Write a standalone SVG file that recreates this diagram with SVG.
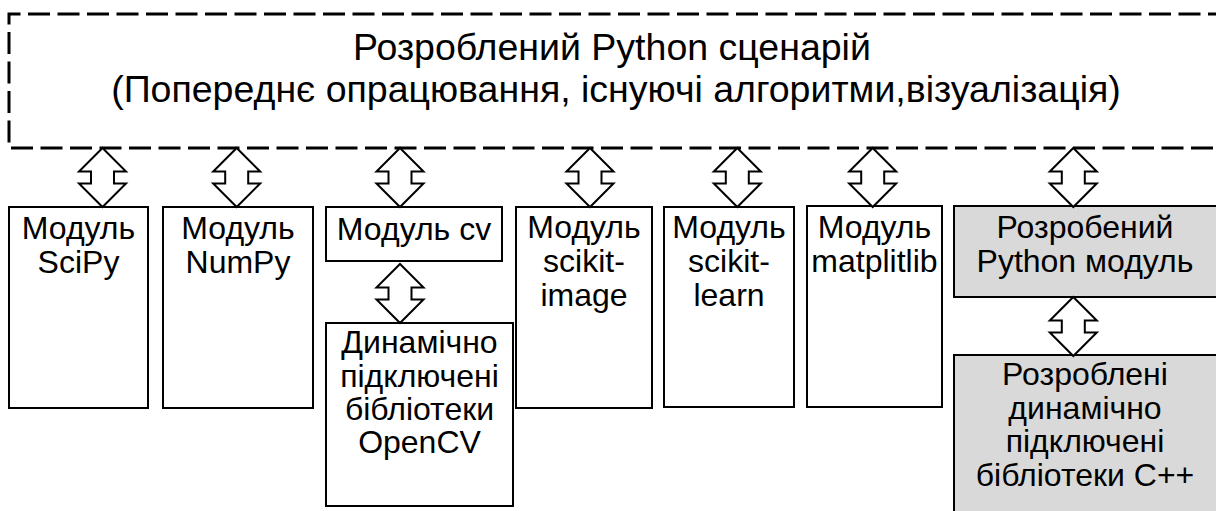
<svg xmlns="http://www.w3.org/2000/svg" xmlns:xlink="http://www.w3.org/1999/xlink" width="1216" height="511" viewBox="0 0 1216 511">
<style>
.box{fill:#fff;stroke:#000;stroke-width:2}
.gbox{fill:#d9d9d9;stroke:#000;stroke-width:2}
.t{font-family:"Liberation Sans",Arial,sans-serif;font-size:32px;fill:#000;text-anchor:middle}
.title{font-family:"Liberation Sans",Arial,sans-serif;font-size:37.5px;fill:#000;text-anchor:middle}
</style>
<defs>
<path id="dblarrow" d="M0,0 L23.5,23.5 H11.5 V35.5 H23.5 L0,59 L-23.5,35.5 H-11.5 V23.5 H-23.5 Z" fill="#fff" stroke="#000" stroke-width="2" stroke-linejoin="miter"/>
</defs>
<g id="script">
<path d="M1230,14 H9 V148 H1230" fill="none" stroke="#000" stroke-width="3" stroke-dasharray="22 7.5"/>
<text class="title" x="612" y="60">Розроблений Python сценарій</text>
<text class="title" x="616" y="102">(Попереднє опрацювання, існуючі алгоритми,візуалізація)</text>
</g>
<g id="scipy">
<rect class="box" x="9" y="207" width="139" height="201"/>
<text class="t" x="78.5" y="239">Модуль</text>
<text class="t" x="78.5" y="273">SciPy</text>
</g>
<g id="numpy">
<rect class="box" x="163" y="207" width="150" height="201"/>
<text class="t" x="238" y="239">Модуль</text>
<text class="t" x="238" y="273">NumPy</text>
</g>
<g id="cv">
<rect class="box" x="326" y="207" width="176" height="54"/>
<text class="t" x="414" y="240">Модуль cv</text>
</g>
<g id="opencv">
<rect class="box" x="326" y="323" width="187" height="183"/>
<text class="t" x="419.5" y="353">Динамічно</text>
<text class="t" x="419.5" y="386.5">підключені</text>
<text class="t" x="419.5" y="419.5">бібліотеки</text>
<text class="t" x="419.5" y="452.5">OpenCV</text>
</g>
<g id="skimage">
<rect class="box" x="516" y="207" width="136" height="201"/>
<text class="t" x="584" y="238">Модуль</text>
<text class="t" x="584" y="272">scikit-</text>
<text class="t" x="584" y="306">image</text>
</g>
<g id="sklearn">
<rect class="box" x="664" y="207" width="130" height="200"/>
<text class="t" x="729" y="238">Модуль</text>
<text class="t" x="729" y="272">scikit-</text>
<text class="t" x="729" y="306">learn</text>
</g>
<g id="matplotlib">
<rect class="box" x="807" y="206" width="135" height="201"/>
<text class="t" x="874.5" y="238">Модуль</text>
<text class="t" x="874.5" y="272">matplitlib</text>
</g>
<g id="pymodule">
<rect class="gbox" x="954" y="206" width="270" height="91"/>
<text class="t" x="1085" y="238">Розробений</text>
<text class="t" x="1085" y="272">Python модуль</text>
</g>
<g id="cpplibs">
<rect class="gbox" x="954" y="355" width="270" height="170"/>
<text class="t" x="1085" y="385">Розроблені</text>
<text class="t" x="1085" y="418.5">динамічно</text>
<text class="t" x="1085" y="452">підключені</text>
<text class="t" x="1085" y="485.5">бібліотеки С++</text>
</g>
<g id="connectors">
<use xlink:href="#dblarrow" transform="translate(102.5,148)"/>
<use xlink:href="#dblarrow" transform="translate(236.7,148)"/>
<use xlink:href="#dblarrow" transform="translate(400,148)"/>
<use xlink:href="#dblarrow" transform="translate(590,148)"/>
<use xlink:href="#dblarrow" transform="translate(737.3,148)"/>
<use xlink:href="#dblarrow" transform="translate(872.7,148)"/>
<use xlink:href="#dblarrow" transform="translate(1073.3,148)"/>
<use xlink:href="#dblarrow" transform="translate(400,264)"/>
<use xlink:href="#dblarrow" transform="translate(1073.3,297)"/>
</g>
</svg>
